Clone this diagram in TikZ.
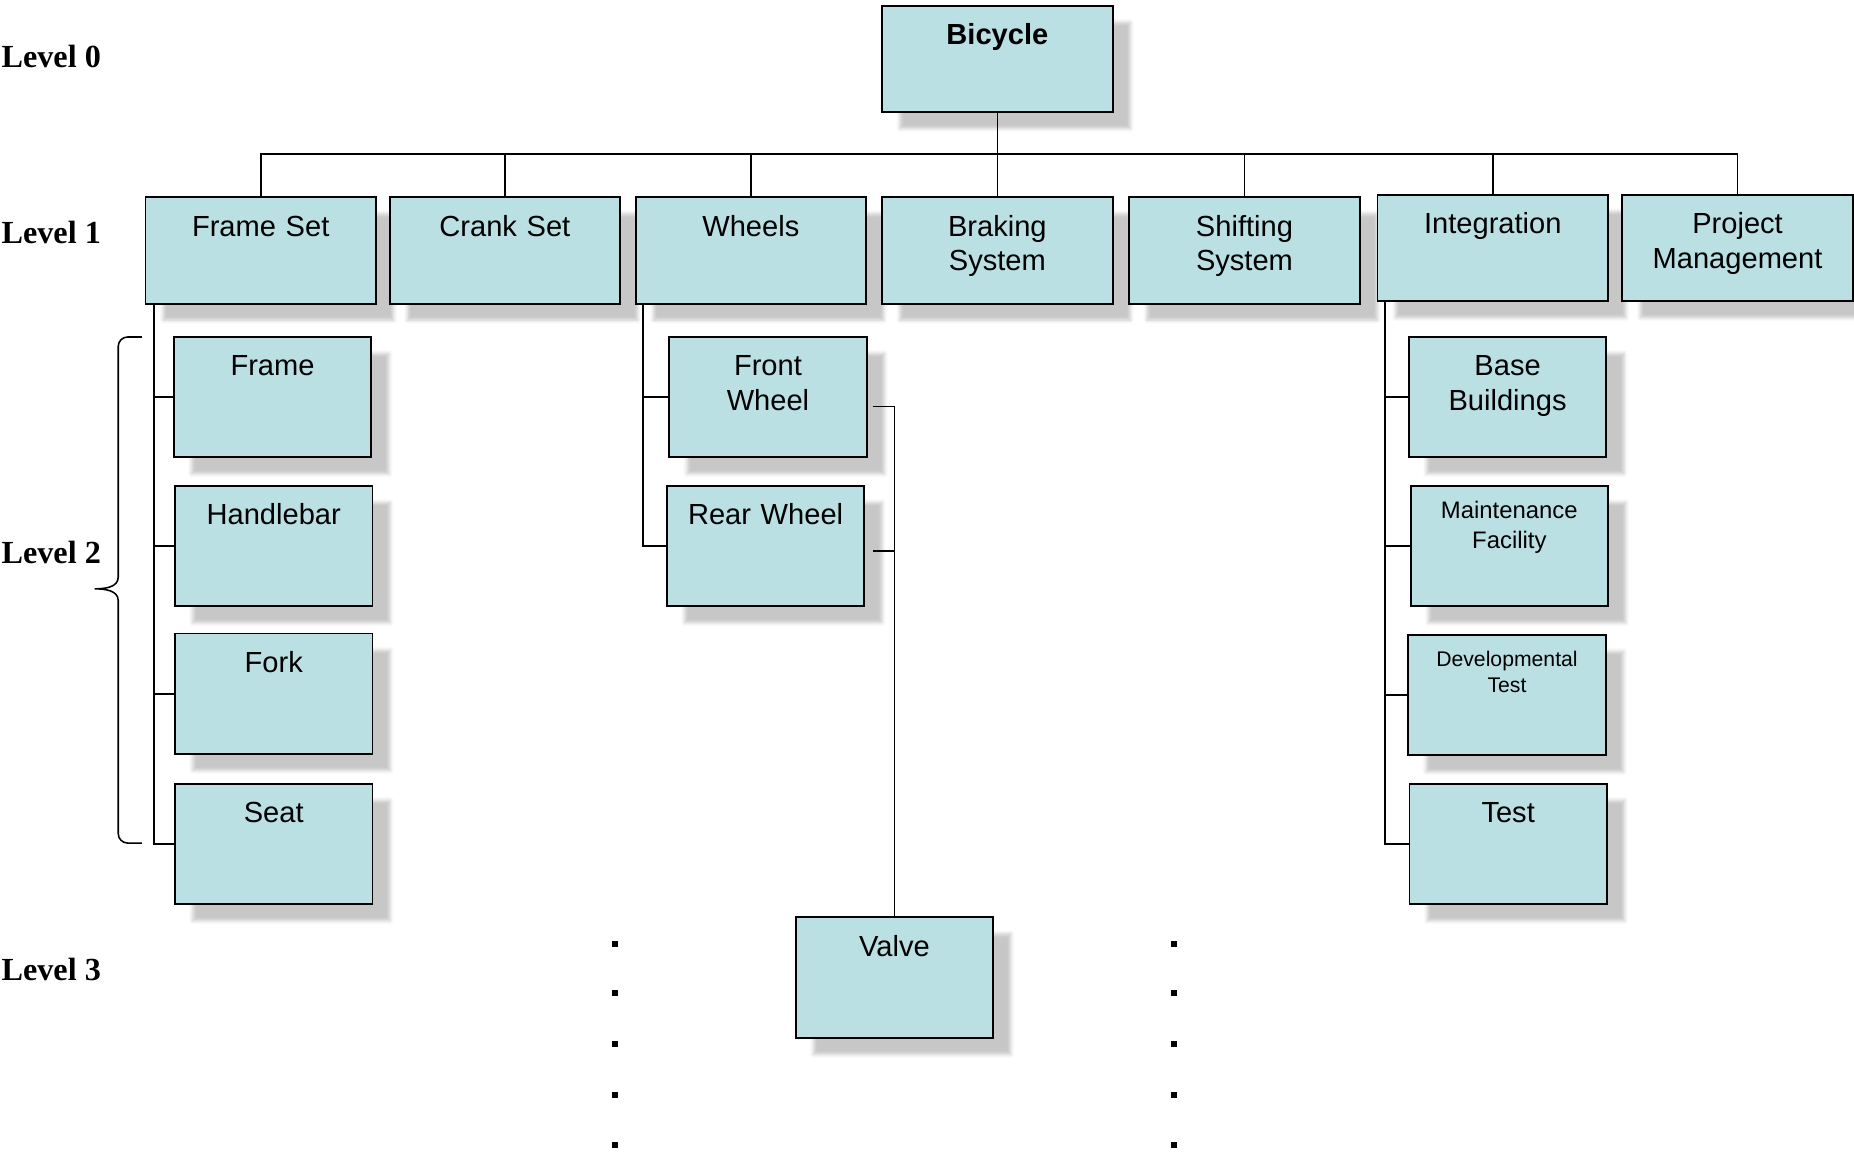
\documentclass[tikz,border=0pt]{standalone}
\usepackage{fontspec}
\setmainfont{Liberation Sans}
\newfontfamily\levelfont{Liberation Serif}
\usetikzlibrary{shadows.blur}
\definecolor{wbsfill}{HTML}{BBE0E3}

\tikzset{
  wbsbox/.style={draw=black, line width=0.9pt, fill=wbsfill, inner sep=0pt, align=center,
    anchor=north, font=\fontsize{14}{16.5}\selectfont,
    blur shadow={shadow xshift=0.3cm, shadow yshift=-0.28cm, shadow blur radius=0.06cm, shadow opacity=22}},
  topbox/.style={wbsbox, text width=3.9cm, text height=0.66cm, text depth=1.14cm},
  subbox/.style={wbsbox, text width=3.34cm, text height=0.66cm, text depth=1.38cm},
  levellabel/.style={anchor=west, inner sep=0pt, font=\levelfont\bfseries\fontsize{15.5}{18}\selectfont},
  link/.style={line width=0.75pt},
}

\begin{document}
\begin{tikzpicture}[x=0.02cm, y=-0.02cm]
    \useasboundingbox (0,0) rectangle (1568,975);

    %%level labels
    \node[levellabel] (lzero) at (1,48) {Level 0};
    \node[levellabel] (lone) at (1,197) {Level 1};
    \node[levellabel] (ltwo) at (1,467) {Level 2};
    \node[levellabel] (lthree) at (1,820) {Level 3};

    %%level 0 and level 1
    \node[topbox, font=\bfseries\fontsize{14}{16.5}\selectfont] (bike) at (843.5,4) {Bicycle};
    \node[topbox] (frameset) at (220.5,166) {Frame Set};
    \node[topbox] (crankset) at (427,166) {Crank Set};
    \node[topbox] (wheels) at (635,166) {Wheels};
    \node[topbox] (braking) at (843.5,166) {Braking\\System};
    \node[topbox] (shifting) at (1052.5,166) {Shifting\\System};
    \node[topbox] (integration) at (1262.5,164) {Integration};
    \node[topbox] (projmgmt) at (1469.5,164) {Project\\Management};

    %%level 2
    \node[subbox] (frame) at (230.5,284) {Frame};
    \node[subbox] (handlebar) at (231.5,410) {Handlebar};
    \node[subbox] (fork) at (231.5,535) {Fork};
    \node[subbox] (seat) at (231.5,662) {Seat};
    \node[subbox] (frontwheel) at (649.5,284) {Front\\Wheel};
    \node[subbox] (rearwheel) at (647.5,410) {Rear Wheel};
    \node[subbox] (basebld) at (1275,284) {Base\\Buildings};
    \node[subbox, font=\fontsize{11.5}{14.2}\selectfont, text height=0.56cm, text depth=1.48cm] (maint) at (1276.5,410) {Maintenance\\Facility};
    \node[subbox, font=\fontsize{10.2}{12.5}\selectfont, text height=0.53cm, text depth=1.51cm] (devtest) at (1274.5,536) {Developmental\\Test};
    \node[subbox] (test) at (1275.5,662) {Test};

    %%level 3
    \node[subbox] (valve) at (756.5,775) {Valve};

    %%draw the lines
    \coordinate (bar) at (843.5,130);
    \draw[link] (bike.south) -- (bar);
    \foreach \n in {frameset,crankset,wheels,braking,shifting,integration,projmgmt}
        \draw[link] (bar) -| (\n.north);
    \foreach \n in {frame,handlebar,fork,seat}
        \draw[link] ([xshift=0.16cm]frameset.south west) |- (\n.west);
    \foreach \n in {frontwheel,rearwheel}
        \draw[link] ([xshift=0.14cm]wheels.south west) |- (\n.west);
    \foreach \n in {basebld,maint,devtest,test}
        \draw[link] ([xshift=0.14cm]integration.south west) |- (\n.west);
    \draw[link] ([xshift=0.09cm,yshift=-0.16cm]frontwheel.east) -| (valve.north);
    \draw[link] ([xshift=0.13cm,yshift=-0.08cm]rearwheel.east) -| (valve.north);

    %%brace for level 2
    \coordinate (bracetop) at (120,285);
    \coordinate (bracetip) at (80,498);
    \coordinate (bracebot) at (120,713);
    \draw[link] (bracetop) -- (108,285) to[out=180,in=90] (100,293) -- (100,488)
        to[out=-90,in=0] (bracetip) to[out=0,in=90] (100,508) -- (100,705)
        to[out=-90,in=180] (108,713) -- (bracebot);

    %%dots
    \foreach \y in {798,840,883,926,968}{
        \fill (517.5,\y-2.5) rectangle ++(5,5);
        \fill (990.5,\y-2.5) rectangle ++(5,5);
    }
\end{tikzpicture}
\end{document}
